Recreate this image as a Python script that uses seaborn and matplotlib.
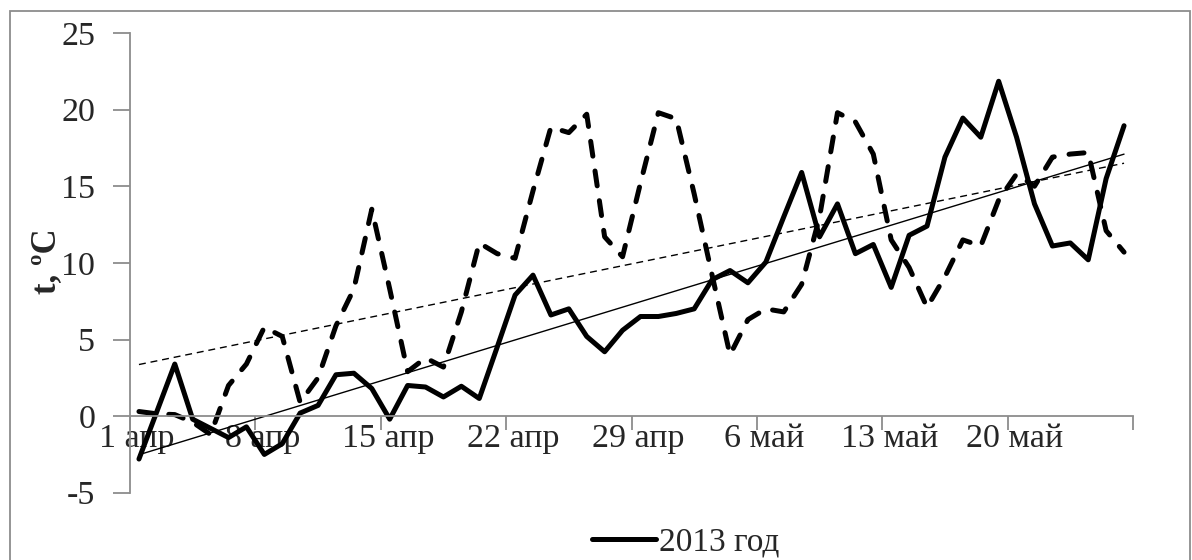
import numpy as np
import pandas as pd
import matplotlib.pyplot as plt
import matplotlib.patches as patches
import seaborn as sns

# ДАННЫЕ: среднесуточная температура, 1 апр - 26 май
day = np.arange(56)
t2013 = [-2.8, 0.3, 3.4, -0.2, -0.8, -1.4, -0.7, -2.5, -1.8, 0.2,
         0.7, 2.7, 2.8, 1.8, -0.2, 2.0, 1.9, 1.25, 1.95, 1.15,
         4.5, 7.9, 9.2, 6.6, 7.0, 5.2, 4.2, 5.6, 6.5, 6.5,
         6.7, 7.0, 8.9, 9.5, 8.7, 10.05, 13.0, 15.9, 11.7, 13.85,
         10.6, 11.2, 8.4, 11.8, 12.4, 16.9, 19.45, 18.2, 21.85, 18.2,
         13.85, 11.1, 11.3, 10.2, 15.5, 18.95]
t_other = [0.3, 0.15, 0.1, -0.4, -1.2, 2.0, 3.4, 5.8, 5.2, 0.9,
           2.5, 5.9, 8.3, 13.5, 8.3, 2.9, 3.8, 3.2, 6.8, 11.3,
           10.6, 10.3, 14.7, 18.85, 18.5, 19.7, 11.7, 10.4, 15.2, 19.8,
           19.4, 14.5, 9.2, 4.0, 6.3, 7.0, 6.8, 8.6, 13.0, 19.8,
           19.2, 17.1, 11.5, 9.7, 7.1, 9.1, 11.5, 11.1, 14.1, 15.8,
           15.0, 16.9, 17.1, 17.2, 12.1, 10.7]
tick_labels = ['1 апр', '8 апр', '15 апр', '22 апр', '29 апр', '6 май', '13 май', '20 май']
y_ticks = [-5, 0, 5, 10, 15, 20, 25]

df = pd.DataFrame({'day': day, '2013': t2013, 'other': t_other})

sns.set_style('white')
plt.rcParams['font.family'] = ['Liberation Serif', 'DejaVu Serif']

fig = plt.figure(figsize=(11.92, 5.6), dpi=100)
ax = fig.add_axes([130 / 1192, 1 - 492.75 / 560, 1003 / 1192, 459.75 / 560])

# РЯДЫ
sns.lineplot(data=df, x='day', y='other', ax=ax, color='black', linewidth=3.6,
             dashes=False, label='_other')
ax.lines[-1].set_dashes((3, 3))
ax.lines[-1].set_dash_capstyle('round')
sns.lineplot(data=df, x='day', y='2013', ax=ax, color='black', linewidth=3.6,
             label='2013 год')
line2013 = ax.lines[-1]

# ЛИНИИ ТРЕНДА
sns.regplot(data=df, x='day', y='2013', ax=ax, scatter=False, ci=None,
            line_kws={'color': 'black', 'linewidth': 1.0})
sns.regplot(data=df, x='day', y='other', ax=ax, scatter=False, ci=None,
            line_kws={'color': 'black', 'linewidth': 1.0, 'dashes': (5, 3.5)})

# ОСИ
ax.set_xlim(-0.5, 55.5)
ax.set_ylim(-5, 25)
ax.set_yticks(y_ticks)
ax.set_yticklabels([str(v) for v in y_ticks])
ax.set_xticks(np.arange(-0.5, 56, 7))
ax.set_xticklabels([])
ax.set_xticks(np.arange(0, 50, 7) - 0.1, minor=True)
ax.set_xticklabels(tick_labels, minor=True)
ax.tick_params(axis='x', which='major', direction='out', length=10, width=1.3,
               color='#8c8c8c', bottom=True)
ax.tick_params(axis='x', which='minor', length=0, pad=5, bottom=True,
               labelsize=24.5)
ax.tick_params(axis='y', direction='out', length=12, width=1.3, color='#8c8c8c',
               left=True, pad=13, labelsize=24.5)
for s in ['top', 'right']:
    ax.spines[s].set_visible(False)
ax.spines['bottom'].set_position(('data', 0))
for s in ['left', 'bottom']:
    ax.spines[s].set_color('#8c8c8c')
    ax.spines[s].set_linewidth(1.3)
ax.set_xlabel('')
ax.set_ylabel('')
fig.text(47 / 1192, 1 - 261 / 560, 't, ºC', rotation=90, fontsize=25,
         fontweight='bold', ha='center', va='center')

# ЛЕГЕНДА
if ax.get_legend() is not None:
    ax.get_legend().remove()
fig.legend(handles=[line2013], labels=['2013 год'], loc='center',
           bbox_to_anchor=(686 / 1192, 1 - 542 / 560), frameon=False,
           fontsize=24, handlelength=1.9, handletextpad=0.1,
           borderpad=0, borderaxespad=0)

# РАМКА ДИАГРАММЫ
fig.patches.append(patches.Rectangle((10 / 1192, -0.1), 1180 / 1192, 1.1 - 11 / 560,
                                     transform=fig.transFigure, fill=False,
                                     edgecolor='#8c8c8c', linewidth=1.3))

fig.savefig('out.png', dpi=100)
